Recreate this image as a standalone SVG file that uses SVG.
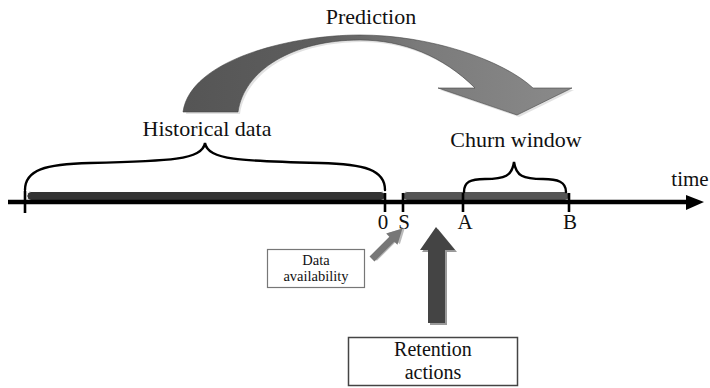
<svg xmlns="http://www.w3.org/2000/svg" width="710" height="388" viewBox="0 0 710 388">
  <defs>
    <linearGradient id="predFill" x1="183" y1="0" x2="572" y2="0" gradientUnits="userSpaceOnUse">
      <stop offset="0" stop-color="#555555"/>
      <stop offset="0.35" stop-color="#5e5e5e"/>
      <stop offset="0.6" stop-color="#7a7a7a"/>
      <stop offset="1" stop-color="#8a8a8a"/>
    </linearGradient>
    <style>
      .lbl { font-family: "Liberation Serif", "Times New Roman", serif; fill: #111; }
      .big { font-size: 22px; }
      .mid { font-size: 21px; }
      .box-text { font-size: 20px; }
      .small { font-size: 14.5px; }
      .brace { fill: none; stroke: #000; stroke-width: 2.4; stroke-linecap: round; }
      .tick { stroke: #000; stroke-width: 2.6; }
      .box { fill: #fff; }
    </style>
  </defs>

  <rect width="710" height="388" fill="#fff"/>

  <!-- curved prediction arrow -->
  <g id="prediction">
    <path d="M186,114 C192,62 290,37 362,37 C432,37 505,62 535,90 L574,90 L519,117 L440,90 L477,90 C445,58 405,42 362,42 C295,42 246,72 240,114 Z" fill="#cfcfcf" opacity="0.6"/>
    <path d="M183,112 C190,60 290,35 360,35 C430,35 503,60 533,88 L572,88 L517,115 L438,88 L475,88 C443,56 403,40 360,40 C293,40 244,70 238,112 Z" fill="url(#predFill)" stroke="#444" stroke-width="0.6"/>
    <text class="lbl big" x="371" y="24" text-anchor="middle">Prediction</text>
  </g>

  <!-- time axis with bars and ticks -->
  <g id="axis">
    <rect x="27" y="191.5" width="358" height="9" rx="4" fill="#333" stroke="#fff" stroke-width="1"/>
    <rect x="403" y="191.5" width="166" height="9" rx="4" fill="#555" stroke="#fff" stroke-width="1"/>
    <line x1="8" y1="202" x2="690" y2="202" stroke="#000" stroke-width="4.5"/>
    <path d="M686,195 L704,202 L686,210 Z" fill="#000"/>
    <line class="tick" x1="25" y1="191" x2="25" y2="213"/>
    <line class="tick" x1="385" y1="193" x2="385" y2="212"/>
    <line class="tick" x1="403" y1="193" x2="403" y2="212"/>
    <line class="tick" x1="463" y1="193" x2="463" y2="212"/>
    <line class="tick" x1="569" y1="193" x2="569" y2="212"/>
    <text class="lbl mid" x="383" y="229" text-anchor="middle">0</text>
    <text class="lbl mid" x="404" y="229" text-anchor="middle">S</text>
    <text class="lbl mid" x="465" y="229" text-anchor="middle">A</text>
    <text class="lbl mid" x="570" y="229" text-anchor="middle">B</text>
    <text class="lbl mid" x="690" y="186" text-anchor="middle">time</text>
  </g>

  <!-- historical data span -->
  <g id="historical">
    <path class="brace" d="M25,190 C25,170 45,164 90,163 C170,161 202,160 205,143 C208,160 240,161 320,163 C365,164 385,170 385,190"/>
    <text class="lbl big" x="207" y="136" text-anchor="middle">Historical data</text>
  </g>

  <!-- churn window span -->
  <g id="churn">
    <path class="brace" d="M464,192 C464,182 470,179 485,179 C505,179 512,176 514,162 C516,176 523,179 543,179 C558,179 566,182 566,192"/>
    <text class="lbl big" x="516" y="147" text-anchor="middle">Churn window</text>
  </g>

  <!-- data availability note and pointer -->
  <g id="data-availability">
    <rect class="box" x="267.5" y="249.5" width="97" height="38" stroke="#777" stroke-width="1.2"/>
    <text class="lbl small" x="316" y="265" text-anchor="middle">Data</text>
    <text class="lbl small" x="316" y="281" text-anchor="middle">availability</text>
    <g transform="translate(372,259) rotate(-45)">
      <path d="M1,-3.5 L29,-3.5 L29,-8 L44,0 L29,8 L29,3.5 L1,3.5 Z" fill="#bbb" transform="translate(1.2,1.2)"/>
      <path d="M0,-3.5 L28,-3.5 L28,-8 L43,0 L28,8 L28,3.5 L0,3.5 Z" fill="#777"/>
    </g>
  </g>

  <!-- retention actions note and pointer -->
  <g id="retention">
    <path d="M430,325 L430,252 L422,252 L438,229 L457,252 L447,252 L447,325 Z" fill="#9a9a9a"/>
    <path d="M428,323 L428,250 L420,250 L436,227 L455,250 L445,250 L445,323 Z" fill="#444"/>
    <rect class="box" x="348.5" y="337.5" width="169" height="48" stroke="#444" stroke-width="1.5"/>
    <text class="lbl box-text" x="433" y="356" text-anchor="middle">Retention</text>
    <text class="lbl box-text" x="433" y="379" text-anchor="middle">actions</text>
  </g>
</svg>
